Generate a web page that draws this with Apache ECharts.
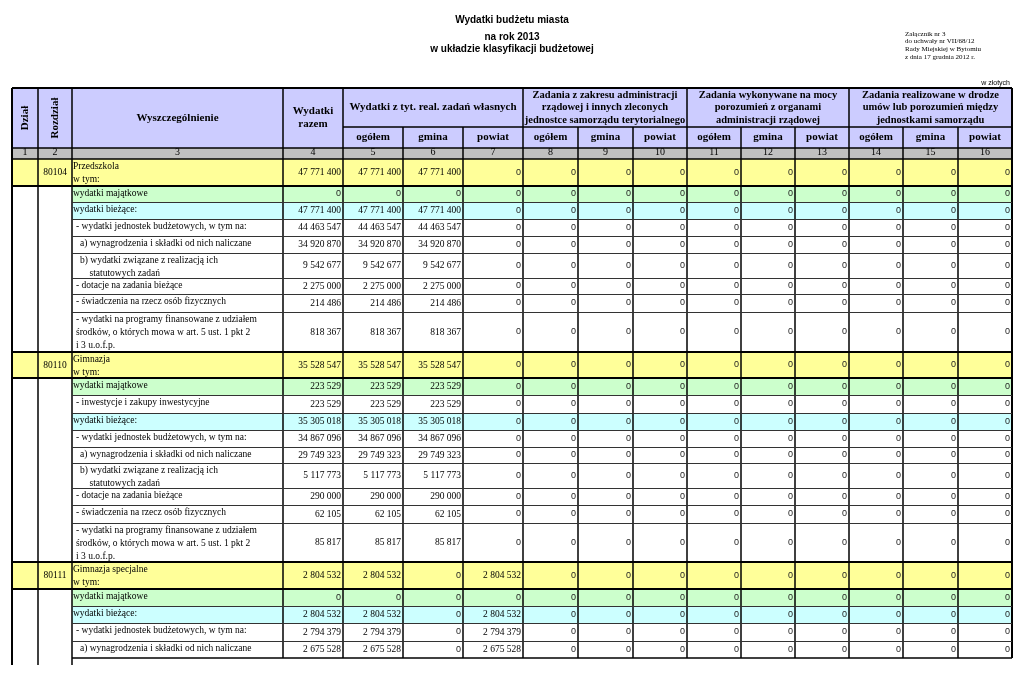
<!DOCTYPE html>
<html><head><meta charset="utf-8">
<script src="https://cdn.jsdelivr.net/npm/echarts@6/dist/echarts.min.js"></script>
<style>html,body{margin:0;padding:0;background:#fff}#c{width:1024px;height:680px}</style>
</head><body><div id="c"></div>
<script>
// ================= DATA =================
const titleLines = ['Wydatki budżetu miasta', 'na rok 2013', 'w układzie klasyfikacji budżetowej'];
const noteLines = ['Załącznik nr 3', 'do uchwały nr VII/68/12', 'Rady Miejskiej w Bytomiu', 'z dnia 17 grudnia 2012 r.'];
const unitLabel = 'w złotych';

const fixedHeaders = ['Dział', 'Rozdział', 'Wyszczególnienie', 'Wydatki\nrazem'];
const groupHeaders = [
  'Wydatki z tyt. real. zadań własnych',
  'Zadania z zakresu administracji\nrządowej i innych zleconych\njednostce samorządu terytorialnego',
  'Zadania wykonywane na mocy\nporozumień z organami\nadministracji rządowej',
  'Zadania realizowane w drodze\numów lub porozumień między\njednostkami samorządu'
];
const subHeaders = ['ogółem', 'gmina', 'powiat'];
const columnNumbers = ['1','2','3','4','5','6','7','8','9','10','11','12','13','14','15','16'];

const rozdzialCodes = [
  '80104','','','','','','','','',
  '80110','','','','','','','','','',
  '80111','','','',''
];
const rowLabels = [
  'Przedszkola\nw tym:',
  'wydatki majątkowe',
  'wydatki bieżące:',
  '- wydatki jednostek budżetowych, w tym na:',
  'a) wynagrodzenia i składki od nich naliczane',
  'b) wydatki związane z realizacją ich\n    statutowych zadań',
  '- dotacje na zadania bieżące',
  '- świadczenia na rzecz osób fizycznych',
  '- wydatki na programy finansowane z udziałem\nśrodków, o których mowa w art. 5 ust. 1 pkt 2\ni 3 u.o.f.p.',
  'Gimnazja\nw tym:',
  'wydatki majątkowe',
  '- inwestycje i zakupy inwestycyjne',
  'wydatki bieżące:',
  '- wydatki jednostek budżetowych, w tym na:',
  'a) wynagrodzenia i składki od nich naliczane',
  'b) wydatki związane z realizacją ich\n    statutowych zadań',
  '- dotacje na zadania bieżące',
  '- świadczenia na rzecz osób fizycznych',
  '- wydatki na programy finansowane z udziałem\nśrodków, o których mowa w art. 5 ust. 1 pkt 2\ni 3 u.o.f.p.',
  'Gimnazja specjalne\nw tym:',
  'wydatki majątkowe',
  'wydatki bieżące:',
  '- wydatki jednostek budżetowych, w tym na:',
  'a) wynagrodzenia i składki od nich naliczane'
];
const rowKinds = [
  'section','maj','biez','dash','sub','sub','dash','dash','dash',
  'section','maj','dash','biez','dash','sub','sub','dash','dash','dash',
  'section','maj','biez','dash','sub'
];

const wydatkiRazem = [47771400,0,47771400,44463547,34920870,9542677,2275000,214486,818367,
  35528547,223529,223529,35305018,34867096,29749323,5117773,290000,62105,85817,
  2804532,0,2804532,2794379,2675528];
const wlasneOgolem = [47771400,0,47771400,44463547,34920870,9542677,2275000,214486,818367,
  35528547,223529,223529,35305018,34867096,29749323,5117773,290000,62105,85817,
  2804532,0,2804532,2794379,2675528];
const wlasneGmina = [47771400,0,47771400,44463547,34920870,9542677,2275000,214486,818367,
  35528547,223529,223529,35305018,34867096,29749323,5117773,290000,62105,85817,
  0,0,0,0,0];
const wlasnePowiat = [0,0,0,0,0,0,0,0,0, 0,0,0,0,0,0,0,0,0,0, 2804532,0,2804532,2794379,2675528];
const zleconeOgolem = [0,0,0,0,0,0,0,0,0, 0,0,0,0,0,0,0,0,0,0, 0,0,0,0,0];
const zleconeGmina  = [0,0,0,0,0,0,0,0,0, 0,0,0,0,0,0,0,0,0,0, 0,0,0,0,0];
const zleconePowiat = [0,0,0,0,0,0,0,0,0, 0,0,0,0,0,0,0,0,0,0, 0,0,0,0,0];
const porozOgolem   = [0,0,0,0,0,0,0,0,0, 0,0,0,0,0,0,0,0,0,0, 0,0,0,0,0];
const porozGmina    = [0,0,0,0,0,0,0,0,0, 0,0,0,0,0,0,0,0,0,0, 0,0,0,0,0];
const porozPowiat   = [0,0,0,0,0,0,0,0,0, 0,0,0,0,0,0,0,0,0,0, 0,0,0,0,0];
const umowyOgolem   = [0,0,0,0,0,0,0,0,0, 0,0,0,0,0,0,0,0,0,0, 0,0,0,0,0];
const umowyGmina    = [0,0,0,0,0,0,0,0,0, 0,0,0,0,0,0,0,0,0,0, 0,0,0,0,0];
const umowyPowiat   = [0,0,0,0,0,0,0,0,0, 0,0,0,0,0,0,0,0,0,0, 0,0,0,0,0];

// ================= LAYOUT / STYLE =================
const LAYOUT = {
  left: 12, top: 88,
  colW: [26,34,211,60,60,60,60,55,55,54,54,54,54,54,55,54],
  headH: [39,21,11],
  rowH: [27,16,17,17,17,25,16,18,40, 26,17,18,17,17,16,25,17,18,39, 27,17,17,18,17],
  tailExtra: 7
};
const COLORS = {
  head: '#ccccff', num: '#c0c0c0', section: '#ffff99', maj: '#ccffcc', biez: '#ccffff', plain: '#ffffff'
};
const SERIF = '"Liberation Serif","Times New Roman",serif';
const SANS = '"Liberation Sans",Arial,sans-serif';

// ================= BUILD =================
const valueColumns = [wydatkiRazem, wlasneOgolem, wlasneGmina, wlasnePowiat,
  zleconeOgolem, zleconeGmina, zleconePowiat, porozOgolem, porozGmina, porozPowiat,
  umowyOgolem, umowyGmina, umowyPowiat];

const xE = [LAYOUT.left];
LAYOUT.colW.forEach(w => xE.push(xE[xE.length - 1] + w));
const yH = [LAYOUT.top];
LAYOUT.headH.forEach(h => yH.push(yH[yH.length - 1] + h));
const yR = [yH[yH.length - 1]];
LAYOUT.rowH.forEach(h => yR.push(yR[yR.length - 1] + h));
const nCols = LAYOUT.colW.length, nRows = rowLabels.length;
const xL = xE[0], xR = xE[nCols];
const yBottom = yR[nRows];

function fmt(v) { return String(v).replace(/\B(?=(\d{3})+(?!\d))/g, ' '); }

// body cells
const cellData = [];
for (let r = 0; r < nRows; r++) for (let c = 0; c < nCols; c++) cellData.push([c, r]);

// header cells
const headerCells = [];
fixedHeaders.forEach((t, c) => headerCells.push({ c0: c, c1: c + 1, h0: 0, h1: 2, text: t, rot: c < 2, size: 11, fill: COLORS.head }));
groupHeaders.forEach((t, g) => headerCells.push({ c0: 4 + g * 3, c1: 7 + g * 3, h0: 0, h1: 1, text: t, rot: false, size: g === 0 ? 11 : 10.5, lh: 12.5, fill: COLORS.head }));
for (let c = 4; c < nCols; c++) headerCells.push({ c0: c, c1: c + 1, h0: 1, h1: 2, text: subHeaders[(c - 4) % 3], rot: false, size: 11, fill: COLORS.head });
columnNumbers.forEach((t, c) => headerCells.push({ c0: c, c1: c + 1, h0: 2, h1: 3, text: t, rot: false, size: 10, normal: true, fill: COLORS.num }));

// rule lines: [x0,y0,x1,y1,width,colorIdx]
const rules = [];
rules.push([xL, yH[0], xR, yH[0], 2, 0]);
rules.push([xE[4], yH[1], xR, yH[1], 1.5, 0]);
rules.push([xL, yH[2], xR, yH[2], 1.5, 0]);
rules.push([xL, yH[3], xR, yH[3], 1.5, 0]);
for (let e = 0; e <= nCols; e++) {
  const full = e <= 4 || e === nCols || (e - 4) % 3 === 0;
  rules.push([xE[e], full ? yH[0] : yH[1], xE[e], yH[3], (e === 0 || e === nCols) ? 2 : 1.5, 0]);
  rules.push([xE[e], yH[3], xE[e], e <= 2 ? yBottom + LAYOUT.tailExtra : yBottom, (e === 0 || e === nCols) ? 2 : 1.5, 0]);
}
for (let r = 1; r <= nRows; r++) {
  const isSec = (rowKinds[r] === 'section') || (rowKinds[r - 1] === 'section');
  if (r === nRows) { rules.push([xE[2], yR[r], xR, yR[r], 1.5, 0]); continue; }
  rules.push([isSec ? xL : xE[2], yR[r], xR, yR[r], isSec ? 2 : 1, isSec ? 0 : 1]);
}

function rowFill(r, c) {
  const k = rowKinds[r];
  if (k === 'section') return COLORS.section;
  if (c < 2) return COLORS.plain;
  if (k === 'maj') return COLORS.maj;
  if (k === 'biez') return COLORS.biez;
  return COLORS.plain;
}
const labelPad = { section: 1, maj: 1, biez: 1, dash: 4, sub: 8 };

const option = {
  animation: false,
  backgroundColor: '#fff',
  title: [
    { text: titleLines[0], left: 'center', top: 14, padding: 0, textStyle: { fontFamily: SANS, fontSize: 10, fontWeight: 'bold', color: '#000', lineHeight: 12 } },
    { text: titleLines[1], left: 'center', top: 31, padding: 0, textStyle: { fontFamily: SANS, fontSize: 10, fontWeight: 'bold', color: '#000', lineHeight: 12 } },
    { text: titleLines[2], left: 'center', top: 43, padding: 0, textStyle: { fontFamily: SANS, fontSize: 10, fontWeight: 'bold', color: '#000', lineHeight: 12 } },
    { text: noteLines.join('\n'), left: 905, top: 30, padding: 0, textStyle: { fontFamily: SERIF, fontSize: 7, fontWeight: 'normal', color: '#000', lineHeight: 7.7 } },
    { text: unitLabel, right: 14, top: 79, padding: 0, textStyle: { fontFamily: SANS, fontSize: 7, fontWeight: 'normal', color: '#000', lineHeight: 8 } }
  ],
  grid: { left: 0, right: 0, top: 0, bottom: 0 },
  xAxis: { type: 'value', min: 0, max: 1024, show: false },
  yAxis: { type: 'value', min: 0, max: 680, inverse: true, show: false },
  series: [
    {
      type: 'custom', name: 'body', coordinateSystem: 'cartesian2d', progressive: 0, clip: false, z: 1,
      data: cellData,
      renderItem: function (params, api) {
        const c = api.value(0), r = api.value(1);
        const p0 = api.coord([xE[c], yR[r]]);
        const p1 = api.coord([xE[c + 1], yR[r + 1]]);
        const children = [{ type: 'rect', shape: { x: p0[0], y: p0[1], width: p1[0] - p0[0], height: p1[1] - p0[1] }, style: { fill: rowFill(r, c) } }];
        const midY = (p0[1] + p1[1]) / 2;
        if (c === 1 && rozdzialCodes[r]) {
          children.push({ type: 'text', style: { text: rozdzialCodes[r], x: (p0[0] + p1[0]) / 2, y: midY, align: 'center', verticalAlign: 'middle', font: '9.5px ' + SERIF, fill: '#000' } });
        } else if (c === 2) {
          children.push({ type: 'text', style: { text: rowLabels[r], x: p0[0] + labelPad[rowKinds[r]], y: p0[1] + 0.5, align: 'left', verticalAlign: 'top', font: '9.5px ' + SERIF, lineHeight: 13, fill: '#000' } });
        } else if (c >= 3) {
          const v = valueColumns[c - 3][r];
          children.push({ type: 'text', style: { text: fmt(v), x: p1[0] - 2, y: midY, align: 'right', verticalAlign: 'middle', font: v === 0 ? ('9px ' + SANS) : ('9.5px ' + SERIF), fill: v === 0 ? '#222' : '#000' } });
        }
        return { type: 'group', children: children };
      }
    },
    {
      type: 'custom', name: 'header', coordinateSystem: 'cartesian2d', progressive: 0, clip: false, z: 2,
      data: headerCells.map((h, i) => [i]),
      renderItem: function (params, api) {
        const h = headerCells[params.dataIndex];
        const p0 = api.coord([xE[h.c0], yH[h.h0]]);
        const p1 = api.coord([xE[h.c1], yH[h.h1]]);
        const cx = (p0[0] + p1[0]) / 2, cy = (p0[1] + p1[1]) / 2;
        const font = (h.normal ? '' : 'bold ') + h.size + 'px ' + SERIF;
        return {
          type: 'group', children: [
            { type: 'rect', shape: { x: p0[0], y: p0[1], width: p1[0] - p0[0], height: p1[1] - p0[1] }, style: { fill: h.fill } },
            { type: 'text', x: cx, y: cy + (h.normal ? -1 : 0), rotation: h.rot ? Math.PI / 2 : 0,
              style: { text: h.text, x: 0, y: 0, align: 'center', verticalAlign: 'middle', font: font, lineHeight: h.lh || 13, fill: '#000' } }
          ]
        };
      }
    },
    {
      type: 'custom', name: 'rules', coordinateSystem: 'cartesian2d', progressive: 0, clip: false, z: 3,
      data: rules,
      renderItem: function (params, api) {
        const a = api.coord([api.value(0), api.value(1)]);
        const b = api.coord([api.value(2), api.value(3)]);
        const w = api.value(4);
        const off = (Math.round(w) % 2) ? 0.5 : 0;
        const horiz = Math.abs(a[1] - b[1]) < 0.01;
        const s = horiz
          ? { x1: a[0], y1: Math.round(a[1]) + off, x2: b[0], y2: Math.round(b[1]) + off }
          : { x1: Math.round(a[0]) + off, y1: a[1], x2: Math.round(b[0]) + off, y2: b[1] };
        return { type: 'line', shape: s, style: { stroke: api.value(5) ? '#333' : '#000', lineWidth: w } };
      }
    }
  ]
};
const chart = echarts.init(document.getElementById('c'), null, { renderer: 'canvas' });
chart.setOption(option);
</script></body></html>
